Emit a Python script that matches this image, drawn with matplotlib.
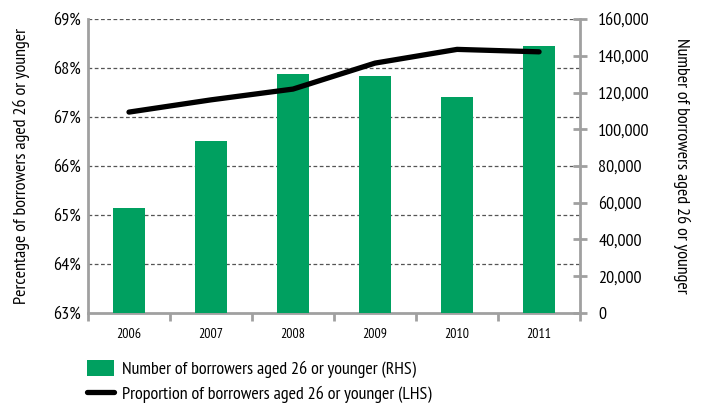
import matplotlib
matplotlib.use("Agg")
import matplotlib.pyplot as plt
import numpy as np
from matplotlib.patches import Patch
from matplotlib.lines import Line2D
from matplotlib.ticker import FuncFormatter

plt.rcParams['font.family'] = ['PT Sans Narrow', 'Fira Sans Condensed',
                               'Roboto Condensed', 'DejaVu Sans']

years = ['2006', '2007', '2008', '2009', '2010', '2011']
borrowers = [57000, 93500, 130000, 129000, 117500, 145300]   # RHS
proportion = [67.10, 67.35, 67.57, 68.10, 68.38, 68.33]     # LHS, %

green = '#00a060'
grey = '#a0a0a0'

fig = plt.figure(figsize=(7.05, 4.07), dpi=100)
ax = fig.add_axes([0.1248, 0.231, 0.698, 0.7223])
ax2 = ax.twinx()

x = np.arange(len(years))

# bars on the right-hand axis, line on the left
ax2.bar(x, borrowers, width=0.38, color=green, zorder=2)
ax2.set_ylim(0, 160000)
ax2.set_yticks(np.arange(0, 160001, 20000))
ax2.yaxis.set_major_formatter(FuncFormatter(lambda v, p: f'{int(v):,}'))

ax.set_ylim(63, 69)
ax.set_yticks(np.arange(63, 70, 1))
ax.yaxis.set_major_formatter(FuncFormatter(lambda v, p: f'{int(v)}%'))
ax.set_xlim(-0.5, len(years) - 0.5)

# dashed gridlines at the percentage ticks
for v in range(64, 70):
    ax.axhline(v, color='#555555', lw=0.9, ls=(0, (3, 2)), zorder=0)

# line drawn on a top axes so it sits above the bars
ax3 = ax.twinx()
ax3.set_ylim(63, 69)
ax3.plot(x, proportion, color='black', lw=3.8, solid_capstyle='round', zorder=5)
ax3.axis('off')

for a in (ax, ax2):
    a.spines['top'].set_visible(False)
ax.spines['right'].set_visible(False)
ax2.spines['left'].set_visible(False)
ax2.spines['bottom'].set_visible(False)
ax.spines['left'].set_color(grey)
ax.spines['left'].set_linewidth(2)
ax.spines['bottom'].set_color(grey)
ax.spines['bottom'].set_linewidth(2)
ax2.spines['right'].set_color(grey)
ax2.spines['right'].set_linewidth(2)

# x ticks at the category boundaries, labels centred underneath
ax.set_xticks(np.arange(-0.5, len(years), 1))
ax.set_xticklabels([])
ax.set_xticks(x, minor=True)
ax.set_xticklabels(years, minor=True, fontsize=10)
ax.tick_params(axis='x', which='major', length=6, width=2, color=grey, direction='out')
ax.tick_params(axis='x', which='minor', length=0, pad=11)
ax.tick_params(axis='y', length=0, labelsize=13, pad=5)
ax2.tick_params(axis='y', length=10, width=2, color=grey, direction='inout',
                labelsize=13, pad=8)

ax.set_ylabel('Percentage of borrowers aged 26 or younger', fontsize=13, labelpad=17)
ax2.set_ylabel('Number of borrowers aged 26 or younger', fontsize=13,
               rotation=-90, labelpad=29)

handles = [Patch(facecolor=green, edgecolor='none'),
           Line2D([0], [0], color='black', lw=3.8, solid_capstyle='round')]
labels = ['Number of borrowers aged 26 or younger (RHS)',
          'Proportion of borrowers aged 26 or younger (LHS)']
fig.legend(handles, labels, loc='upper left', bbox_to_anchor=(0.123, 0.115),
           frameon=False, fontsize=13, handlelength=1.5, handleheight=1.0,
           labelspacing=0.35, handletextpad=0.45, borderaxespad=0, borderpad=0)

fig.savefig('out.png', dpi=100)
